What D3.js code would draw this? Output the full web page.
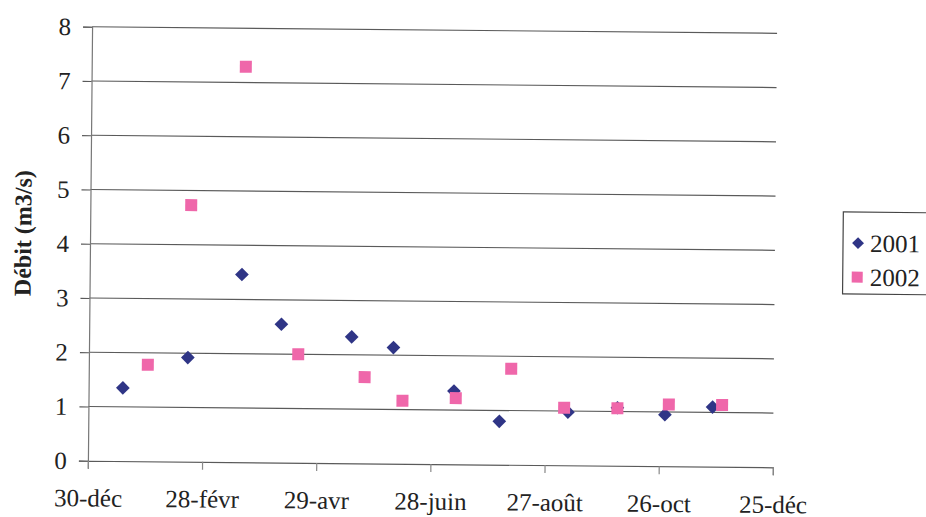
<!DOCTYPE html>
<html><head><meta charset="utf-8">
<script src="https://cdn.jsdelivr.net/npm/d3@7"></script>
<style>body{margin:0;background:#fff} svg{display:block}</style>
</head><body><svg id="c" width="926" height="517"></svg>
<script>
// ---- data ----
const seriesNames = ["2001", "2002"];
const dates2001 = ["01-17","02-20","03-20","04-10","05-17","06-08","07-10","08-03","09-08","10-04","10-29","11-23"];
const debit2001 = [1.35,1.92,3.46,2.55,2.33,2.14,1.35,0.80,0.98,1.07,0.95,1.10];
const dates2002 = ["01-30","02-21","03-21","04-19","05-24","06-13","07-11","08-09","09-06","10-04","10-31","11-28"];
const debit2002 = [1.78,4.73,7.29,2.00,1.59,1.16,1.22,1.77,1.06,1.06,1.14,1.14];
const xTickDates = ["2000-12-30","2001-02-28","2001-04-29","2001-06-28","2001-08-27","2001-10-26","2001-12-25"];
const xTickLabels = ["30-déc","28-févr","29-avr","28-juin","27-août","26-oct","25-déc"];
const yTicks = [0,1,2,3,4,5,6,7,8];
const yTitle = "Débit (m3/s)";

// ---- layout ----
const FONT = "'Liberation Serif', Tinos, 'Nimbus Roman', 'Nimbus Roman No9 L', FreeSerif, 'Times New Roman', Times, 'Noto Serif', 'DejaVu Serif', serif";
const pL = 90, pR = 775, pT = 30, pB = 464;
const parseFull = d3.utcParse("%Y-%m-%d");
const parseMD = s => parseFull("2001-" + s);

const x = d3.scaleUtc()
  .domain([parseFull(xTickDates[0]), parseFull(xTickDates[xTickDates.length - 1])])
  .range([pL, pR]);
const y = d3.scaleLinear().domain([0, 8]).range([pB, pT]);

const svg = d3.select("#c");
svg.append("rect").attr("width", 926).attr("height", 517).attr("fill", "#fff");
const g = svg.append("g").attr("transform", "rotate(0.55,430,245)");

// gridlines
g.append("g").selectAll("line").data(yTicks.filter(d => d > 0)).join("line")
  .attr("x1", pL).attr("x2", pR)
  .attr("y1", d => y(d)).attr("y2", d => y(d))
  .attr("stroke", "#5a5a5a").attr("stroke-width", 1.2);

// y axis
const yAxis = d3.axisLeft(y).tickValues(yTicks).tickSize(9).tickPadding(12).tickFormat(d3.format("d"));
const ya = g.append("g").attr("transform", `translate(${pL},0)`).call(yAxis);
ya.select(".domain").attr("stroke", "#777").attr("stroke-width", 1.2);
ya.selectAll(".tick line").attr("stroke", "#5a5a5a").attr("stroke-width", 1.2);
ya.selectAll(".tick text").style("font-family", FONT).attr("font-size", 25).attr("fill", "#222");

// x axis
const xAxis = d3.axisBottom(x).tickValues(xTickDates.map(parseFull)).tickSize(8).tickPadding(20)
  .tickFormat((d, i) => xTickLabels[i]);
const xa = g.append("g").attr("transform", `translate(0,${pB})`).call(xAxis);
xa.select(".domain").attr("stroke", "#5a5a5a").attr("stroke-width", 1.2);
xa.selectAll(".tick line").attr("stroke", "#888").attr("stroke-width", 1.2);
xa.selectAll(".tick text").style("font-family", FONT).attr("font-size", 25).attr("fill", "#222");

// y title
g.append("text")
  .attr("transform", `translate(31,237) rotate(-90)`)
  .attr("text-anchor", "middle")
  .style("font-family", FONT).attr("font-weight", "bold").attr("font-size", 24).attr("fill", "#222")
  .text(yTitle);

// markers
const diamond = d3.symbol().type(d3.symbolDiamond2).size(120);
const s2001 = dates2001.map((d, i) => ({ date: parseMD(d), v: debit2001[i] }));
const s2002 = dates2002.map((d, i) => ({ date: parseMD(d), v: debit2002[i] }));
const C1 = "#2f3586", C2 = "#ef67aa";

g.append("g").selectAll("path").data(s2001).join("path")
  .attr("d", diamond)
  .attr("transform", d => `translate(${x(d.date)},${y(d.v)})`)
  .attr("fill", C1);

const sq = 12;
g.append("g").selectAll("rect").data(s2002).join("rect")
  .attr("x", d => x(d.date) - sq / 2).attr("y", d => y(d.v) - sq / 2)
  .attr("width", sq).attr("height", sq)
  .attr("fill", C2);

// legend
const lg = g.append("g");
lg.append("rect").attr("x", 843).attr("y", 208).attr("width", 100).attr("height", 82)
  .attr("fill", "#fff").attr("stroke", "#444").attr("stroke-width", 1.2);
const legendRows = [{ name: seriesNames[0], color: C1, shape: "d", cy: 239 }, { name: seriesNames[1], color: C2, shape: "s", cy: 273 }];
legendRows.forEach(r => {
  if (r.shape === "d") {
    lg.append("path").attr("d", d3.symbol().type(d3.symbolDiamond2).size(90))
      .attr("transform", `translate(858,${r.cy})`).attr("fill", r.color);
  } else {
    lg.append("rect").attr("x", 852).attr("y", r.cy - 5.5).attr("width", 11).attr("height", 11).attr("fill", r.color);
  }
  lg.append("text").attr("x", 870).attr("y", r.cy).attr("dy", "0.35em")
    .style("font-family", FONT).attr("font-size", 25).attr("fill", "#222").text(r.name);
});
</script></body></html>
